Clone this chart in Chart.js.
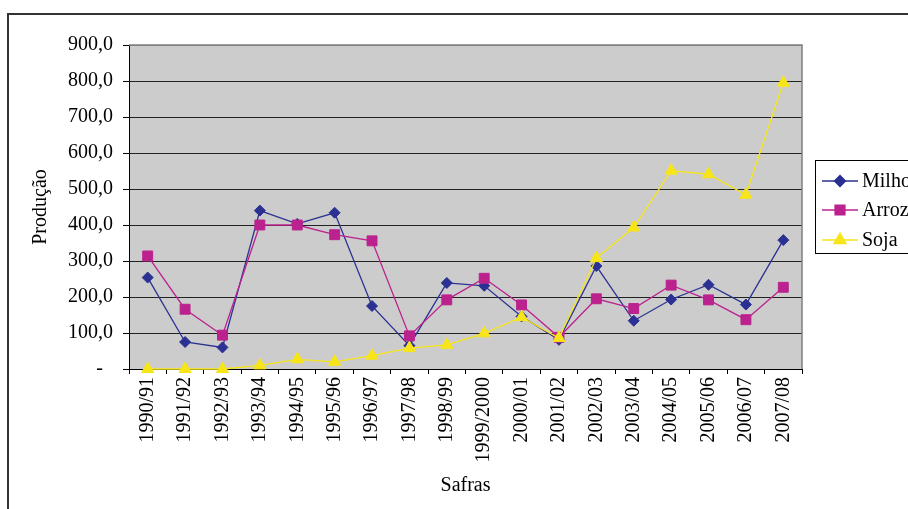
<!DOCTYPE html>
<html>
<head>
<meta charset="utf-8">
<script src="https://cdn.jsdelivr.net/npm/chart.js@4.4.1/dist/chart.umd.min.js"></script>
<style>
  body { margin: 0; background: #fff; }
  canvas { display: block; }
</style>
</head>
<body>
<canvas id="producaoChart" width="908" height="509"></canvas>
<script>
var safras = ['1990/91', '1991/92', '1992/93', '1993/94', '1994/95', '1995/96', '1996/97', '1997/98', '1998/99',
    '1999/2000', '2000/01', '2001/02', '2002/03', '2003/04', '2004/05', '2005/06', '2006/07', '2007/08'];
var milho = [254, 75, 60, 440, 403, 434, 175, 65, 239, 231, 146, 81, 286, 134, 193, 234, 179, 358];
var arroz = [314, 166, 94, 400, 400, 373, 356, 92, 192, 252, 178, 88, 195, 168, 233, 192, 137, 227];
var soja = [0, 0, 0, 10, 27, 20, 37, 58, 67, 99, 144, 86, 308, 393, 551, 541, 484, 795];
var yTicks = [0, 100, 200, 300, 400, 500, 600, 700, 800, 900];

var serif = '"Liberation Serif", "Times New Roman", serif';

// grey plot background, outer frame and plot border
var backgroundPlugin = {
    id: 'background',
    beforeDraw: function (chart) {
        var ctx = chart.ctx;
        var a = chart.chartArea;
        ctx.save();
        ctx.fillStyle = '#cccccc';
        ctx.fillRect(a.left, a.top, a.right - a.left, a.bottom - a.top);
        ctx.strokeStyle = '#333333';
        ctx.lineWidth = 2;
        ctx.beginPath();
        ctx.moveTo(8, 509);
        ctx.lineTo(8, 14);
        ctx.lineTo(908, 14);
        ctx.stroke();
        ctx.restore();
    },
    afterDatasetsDraw: function (chart) {
        var ctx = chart.ctx;
        var a = chart.chartArea;
        ctx.save();
        ctx.strokeStyle = '#808080';
        ctx.lineWidth = 1.5;
        ctx.beginPath();
        ctx.moveTo(a.left, a.top);
        ctx.lineTo(a.right, a.top);
        ctx.lineTo(a.right, a.bottom);
        ctx.stroke();
        ctx.restore();
    }
};

// legend box on the right, partly cut by the edge
var legendPlugin = {
    id: 'sideLegend',
    afterDraw: function (chart) {
        var ctx = chart.ctx;
        ctx.save();
        ctx.fillStyle = '#ffffff';
        ctx.fillRect(815, 160, 120, 93);
        ctx.strokeStyle = '#000000';
        ctx.lineWidth = 1;
        ctx.strokeRect(815.5, 160.5, 120, 93);
        var rows = [181, 210, 240];
        chart.data.datasets.forEach(function (ds, i) {
            var y = rows[i];
            ctx.strokeStyle = ds.borderColor;
            ctx.lineWidth = ds.borderWidth;
            ctx.beginPath();
            ctx.moveTo(822, y);
            ctx.lineTo(858, y);
            ctx.stroke();
            ctx.fillStyle = ds.backgroundColor;
            Chart.helpers.drawPoint(ctx, {
                pointStyle: ds.pointStyle,
                radius: ds.pointRadius,
                rotation: 0,
                borderWidth: 1
            }, 840, y);
            ctx.fill();
            ctx.fillStyle = '#000000';
            ctx.font = '20px ' + serif;
            ctx.textBaseline = 'middle';
            ctx.textAlign = 'left';
            ctx.fillText(ds.label, 862, y + 1);
        });
        ctx.restore();
    }
};

var ctx = document.getElementById('producaoChart').getContext('2d');

var producaoChart = new Chart(ctx, {
    type: 'line',
    data: {
        labels: safras,
        datasets: [
            {
                label: 'Milho',
                data: milho,
                borderColor: '#2b3192',
                backgroundColor: '#2b3192',
                borderWidth: 1.3,
                pointStyle: 'rectRot',
                pointRadius: 5.5,
                pointBorderWidth: 1,
                order: 2,
                clip: false
            },
            {
                label: 'Arroz',
                data: arroz,
                borderColor: '#bb228e',
                backgroundColor: '#bb228e',
                borderWidth: 1.3,
                pointStyle: 'rect',
                pointRadius: 7,
                pointBorderWidth: 1,
                order: 1,
                clip: false
            },
            {
                label: 'Soja',
                data: soja,
                borderColor: '#f7e51a',
                backgroundColor: '#f7e51a',
                borderWidth: 1.3,
                pointStyle: 'triangle',
                pointRadius: 7,
                pointBorderWidth: 1,
                order: 0,
                clip: false
            }
        ]
    },
    options: {
        responsive: false,
        animation: false,
        layout: {
            padding: { left: 0, top: 45, right: 106, bottom: 0 }
        },
        plugins: {
            legend: { display: false },
            tooltip: { enabled: false }
        },
        scales: {
            x: {
                offset: true,
                border: { color: '#000000', width: 1 },
                grid: {
                    offset: true,
                    drawOnChartArea: false,
                    tickLength: 5,
                    tickColor: '#000000'
                },
                ticks: {
                    color: '#000000',
                    font: { family: serif, size: 20 },
                    minRotation: 90,
                    maxRotation: 90,
                    padding: 3,
                    autoSkip: false
                },
                title: {
                    display: true,
                    text: 'Safras',
                    color: '#000000',
                    font: { family: serif, size: 20 },
                    padding: { top: 0, bottom: 11 }
                },
                afterFit: function (scale) {
                    scale.height = 140;
                }
            },
            y: {
                min: 0,
                max: 900,
                border: { color: '#000000', width: 1 },
                grid: {
                    color: function (c) {
                        return c.tick && c.tick.value === 900 ? '#808080' : '#222222';
                    },
                    lineWidth: 1,
                    tickLength: 6,
                    tickColor: '#000000'
                },
                afterBuildTicks: function (scale) {
                    scale.ticks = yTicks.map(function (v) { return { value: v }; });
                },
                ticks: {
                    color: '#000000',
                    font: { family: serif, size: 20 },
                    padding: 10,
                    callback: function (value) {
                        if (value === 0) {
                            return '-\u2007';
                        }
                        return value.toFixed(1).replace('.', ',');
                    }
                },
                title: {
                    display: true,
                    text: 'Produção',
                    color: '#000000',
                    font: { family: serif, size: 20 },
                    padding: { top: 29, bottom: 0 }
                },
                afterFit: function (scale) {
                    scale.width = 129;
                }
            }
        }
    },
    plugins: [backgroundPlugin, legendPlugin]
});
</script>
</body>
</html>
